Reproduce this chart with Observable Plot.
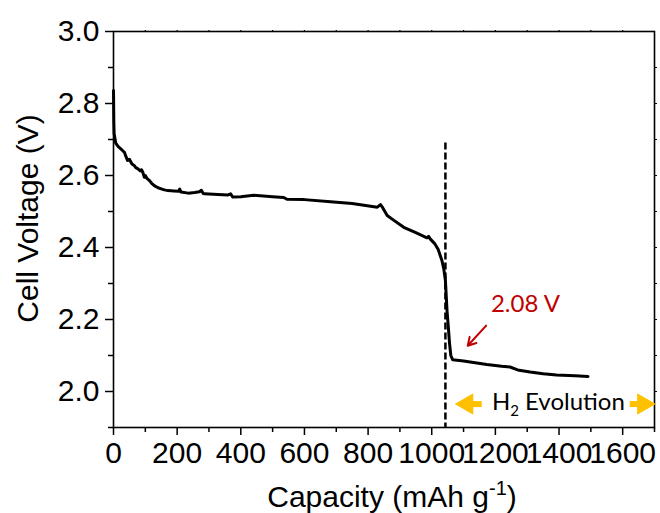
<!DOCTYPE html>
<html><head><meta charset="utf-8">
<script src="https://cdn.jsdelivr.net/npm/d3@7"></script>
<script src="https://cdn.jsdelivr.net/npm/@observablehq/plot@0.6"></script>
<style>
body{margin:0;background:#fff}
svg{font-family:"Liberation Sans",Arial,sans-serif}
</style>
</head><body><div id="chart"></div>
<script>
// discharge curve: capacity (mAh g-1) and cell voltage (V)
const capacity = [0,1,2,7,15,23,30,34,39,44,50,58,65,70,76,84,88,92,97,100,105,113,120,128,140,150,160,171,190,205,208,212,235,255,270,276,282,286,328,360,368,375,400,440,500,535,545,600,682,750,829,839,845,860,880,912,950,985,990,995,1010,1020,1032,1038,1043,1048,1052,1056,1060,1066,1100,1173,1220,1246,1270,1309,1350,1392,1450,1491];
const voltage  = [2.836,2.75,2.716,2.69,2.68,2.674,2.668,2.665,2.653,2.642,2.645,2.632,2.628,2.622,2.619,2.613,2.616,2.609,2.595,2.6,2.592,2.586,2.578,2.572,2.566,2.563,2.56,2.558,2.557,2.556,2.562,2.554,2.551,2.553,2.555,2.559,2.55,2.549,2.547,2.546,2.549,2.54,2.541,2.545,2.541,2.539,2.534,2.533,2.527,2.522,2.512,2.519,2.512,2.489,2.476,2.456,2.441,2.427,2.431,2.424,2.41,2.395,2.364,2.34,2.308,2.225,2.18,2.133,2.1,2.088,2.085,2.075,2.07,2.068,2.06,2.054,2.049,2.046,2.044,2.042];

const xTicks = [0,200,400,600,800,1000,1200,1400,1600];
const xMinorTicks = [100,300,500,700,900,1100,1300,1500,1700];
const xTopTicks = [100,200,300,400,500,600,700,800,900,1000,1100,1200,1300,1400,1500,1600];
const yTicks = [2.0,2.2,2.4,2.6,2.8,3.0];
const yMinorTicks = [1.9,2.1,2.3,2.5,2.7,2.9];
const yRightTicks = [2.0,2.1,2.2,2.3,2.4,2.5,2.6,2.7,2.8,2.9];

// annotations (data units)
const dashedLine = [{x:1043, y1:2.69, y2:1.9}];
const voltLabel = [{x:1186, y:2.243, text:"2.08 V"}];
const voltArrow = [{x1:1171, y1:2.183, x2:1113, y2:2.127}];
const h2Label = [{x:1189, y:1.970, text:"H2 Evolution"}];
const h2Shafts = [{x1:1157, x2:1104, y:1.965},{x1:1622, x2:1672, y:1.965}];
const h2Heads = [{x:1111, y:1.965, dir:-90},{x:1665, y:1.965, dir:90}];
const xTitle = ["Capacity (mAh g-1)"];
const yTitle = ["Cell Voltage (V)"];

const data = capacity.map((c,i)=>({c, v:voltage[i]}));
const blank = () => "";

const chart = Plot.plot({
  width:660, height:513,
  marginLeft:113, marginRight:6, marginTop:31, marginBottom:86,
  x:{domain:[0,1700]},
  y:{domain:[1.9,3.0]},
  style:{background:"#fff", color:"#000", fontFamily:"Liberation Sans, Arial, sans-serif"},
  marks:[
    Plot.axisX(xTicks,{tickSize:8, tickPadding:6, fontSize:30, strokeWidth:1.5, tickFormat:d=>String(d), label:null}),
    Plot.axisX(xMinorTicks,{tickSize:5, strokeWidth:1.5, tickFormat:blank, label:null}),
    Plot.axisX(xTopTicks,{anchor:"top", tickSize:2, strokeWidth:1.2, tickFormat:blank, label:null}),
    Plot.axisY(yTicks,{tickSize:8, tickPadding:6, fontSize:30, strokeWidth:1.5, tickFormat:d=>d.toFixed(1), label:null}),
    Plot.axisY(yMinorTicks,{tickSize:5, strokeWidth:1.5, tickFormat:blank, label:null}),
    Plot.axisY(yRightTicks,{anchor:"right", tickSize:2, strokeWidth:1.2, tickFormat:blank, label:null}),
    Plot.frame({stroke:"#000", strokeWidth:1.6}),
    Plot.ruleX(dashedLine,{x:"x", y1:"y1", y2:"y2", stroke:"#000", strokeWidth:2.5, strokeDasharray:"7,3"}),
    Plot.line(data,{x:"c", y:"v", stroke:"#000", strokeWidth:3, strokeLinejoin:"round"}),
    Plot.arrow(voltArrow,{x1:"x1", y1:"y1", x2:"x2", y2:"y2", stroke:"#c00000", strokeWidth:2, headLength:10}),
    Plot.text(voltLabel,{x:"x", y:"y", text:"text", textAnchor:"start", fill:"#c00000", fontSize:24, fontFamily:"Lato"}),
    Plot.link(h2Shafts,{x1:"x1", x2:"x2", y1:"y", y2:"y", stroke:"#ffc000", strokeWidth:6}),
    Plot.dot(h2Heads,{x:"x", y:"y", symbol:"triangle", r:8, rotate:"dir", fill:"#ffc000", stroke:"none"}),
    Plot.text(h2Label,{x:"x", y:"y", text:"text", textAnchor:"start", fill:"#000", fontSize:24, fontFamily:"Lato", className:"h2lbl"}),
    Plot.text(xTitle,{frameAnchor:"bottom", text:d=>d, textAnchor:"middle", lineAnchor:"bottom", dy:79, dx:8, fontSize:30, className:"xtitle"}),
    Plot.text(yTitle,{frameAnchor:"left", text:d=>d, textAnchor:"middle", rotate:-90, lineAnchor:"bottom", dx:-76, dy:-11, fontSize:30})
  ]
});
document.getElementById("chart").appendChild(chart);

// subscript / superscript formatting
d3.select(chart).selectAll("g.h2lbl text").each(function(){
  const t = d3.select(this); t.text(null);
  t.append("tspan").text("H");
  t.append("tspan").attr("dy", 6).attr("font-size", 15).text("2");
  t.append("tspan").attr("dy", -6).text(" Evolution");
});
d3.select(chart).selectAll("g.xtitle text").each(function(){
  const t = d3.select(this); t.text(null);
  t.append("tspan").text("Capacity (mAh g");
  t.append("tspan").attr("dy", -12).attr("font-size", 20).text("-1");
  t.append("tspan").attr("dy", 12).text(")");
});
</script>
</body></html>
